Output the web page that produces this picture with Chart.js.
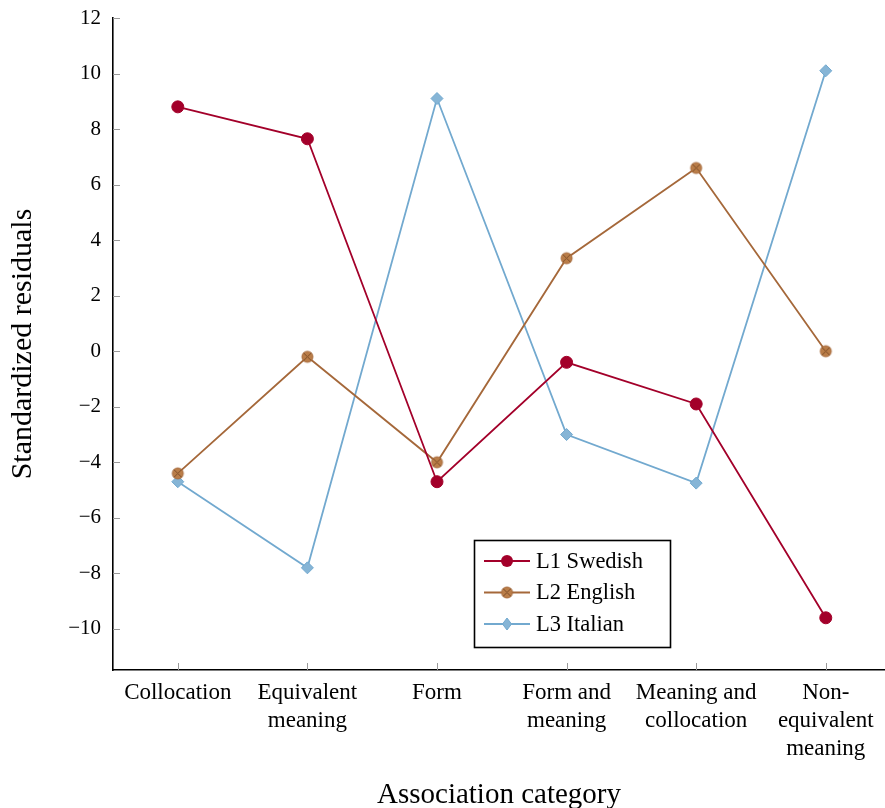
<!DOCTYPE html>
<html>
<head>
<meta charset="utf-8">
<script src="https://cdn.jsdelivr.net/npm/chart.js@4"></script>
<style>
  html, body { margin: 0; padding: 0; background: #fff; }
  #wrap { position: relative; width: 885px; height: 808px; }
</style>
</head>
<body>
<div id="wrap"><canvas id="c" width="885" height="808"></canvas></div>
<script>
// ---- data ----
const categories = [
  "Collocation",
  ["Equivalent", "meaning"],
  "Form",
  ["Form and", "meaning"],
  ["Meaning and", "collocation"],
  ["Non-", "equivalent", "meaning"]
];
const seriesNames = ["L1 Swedish", "L2 English", "L3 Italian"];
const swedish = [8.8, 7.65, -4.7, -0.4, -1.9, -9.6];
const english = [-4.4, -0.2, -4.0, 3.35, 6.6, 0.0];
const italian = [-4.7, -7.8, 9.1, -3.0, -4.75, 10.1];
const yTicks = [-10, -8, -6, -4, -2, 0, 2, 4, 6, 8, 10, 12];

const FONT = "'Liberation Serif', 'DejaVu Serif', serif";
const RED = "#A3002A";
const BROWN = "#A5683A";
const BROWN_FILL = "#BA7D48";
const BLUE = "#72A9CF";
const BLUE_FILL = "#86B5D6";

function makeOtimes(r) {
  const s = Math.ceil(r * 2 + 4);
  const cv = document.createElement('canvas');
  cv.width = s; cv.height = s;
  const g = cv.getContext('2d');
  const c = s / 2;
  g.beginPath(); g.arc(c, c, r, 0, Math.PI * 2);
  g.fillStyle = BROWN_FILL; g.fill();
  g.lineWidth = 1; g.strokeStyle = BROWN; g.stroke();
  const d = r * 0.7071;
  g.beginPath();
  g.moveTo(c - d, c - d); g.lineTo(c + d, c + d);
  g.moveTo(c + d, c - d); g.lineTo(c - d, c + d);
  g.strokeStyle = "#7E4E28"; g.lineWidth = 1; g.stroke();
  return cv;
}
const otimes = makeOtimes(5.5);

function toPoints(arr) { return arr.map((v, i) => ({ x: i, y: v })); }

const datasets = [
  { label: seriesNames[0], data: toPoints(swedish), borderColor: RED, backgroundColor: RED,
    pointStyle: 'circle', pointRadius: 6, pointBorderWidth: 1, pointBorderColor: RED, borderWidth: 1.8 },
  { label: seriesNames[1], data: toPoints(english), borderColor: BROWN, backgroundColor: BROWN_FILL,
    pointStyle: otimes, pointRadius: 6, borderWidth: 1.8 },
  { label: seriesNames[2], data: toPoints(italian), borderColor: BLUE, backgroundColor: BLUE_FILL,
    pointStyle: 'rectRot', pointRadius: 6, pointBorderWidth: 1, pointBorderColor: BLUE, borderWidth: 1.8 }
];

// inner tick marks
const innerTicks = {
  id: 'innerTicks',
  afterDatasetsDraw(chart) {
    const ctx = chart.ctx, xs = chart.scales.x, ys = chart.scales.y;
    const a = chart.chartArea;
    ctx.save();
    ctx.strokeStyle = "#9a9a9a"; ctx.lineWidth = 1;
    ctx.beginPath();
    yTicks.forEach(v => {
      const y = Math.round(ys.getPixelForValue(v)) + 0.5;
      ctx.moveTo(a.left, y); ctx.lineTo(a.left + 7, y);
    });
    categories.forEach((c, i) => {
      const x = Math.round(xs.getPixelForValue(i)) + 0.5;
      ctx.moveTo(x, a.bottom); ctx.lineTo(x, a.bottom - 7);
    });
    ctx.stroke();
    ctx.restore();
  }
};

// custom legend box
const boxLegend = {
  id: 'boxLegend',
  afterDraw(chart) {
    const ctx = chart.ctx;
    const bx = 474.5, by = 540.5, bw = 196, bh = 107;
    ctx.save();
    ctx.fillStyle = "#fff";
    ctx.fillRect(bx, by, bw, bh);
    ctx.strokeStyle = "#000"; ctx.lineWidth = 1.6;
    ctx.strokeRect(bx, by, bw, bh);
    const rows = [561, 592.5, 624];
    chart.data.datasets.forEach((ds, i) => {
      const y = rows[i];
      ctx.strokeStyle = ds.borderColor; ctx.lineWidth = 1.8;
      ctx.beginPath(); ctx.moveTo(484, y); ctx.lineTo(530, y); ctx.stroke();
      const mx = 507;
      if (i === 0) {
        ctx.beginPath(); ctx.arc(mx, y, 6, 0, Math.PI * 2);
        ctx.fillStyle = ds.backgroundColor; ctx.fill();
      } else if (i === 1) {
        ctx.drawImage(otimes, mx - otimes.width / 2, y - otimes.height / 2);
      } else {
        const r = 6;
        ctx.beginPath();
        ctx.moveTo(mx, y - r); ctx.lineTo(mx + r * 0.75, y); ctx.lineTo(mx, y + r); ctx.lineTo(mx - r * 0.75, y); ctx.closePath();
        ctx.fillStyle = ds.backgroundColor; ctx.fill();
        ctx.strokeStyle = ds.borderColor; ctx.lineWidth = 1; ctx.stroke();
      }
      ctx.fillStyle = "#000";
      ctx.font = "22.5px " + FONT;
      ctx.textBaseline = "middle";
      ctx.textAlign = "left";
      ctx.fillText(ds.label, 536, y + 1);
    });
    ctx.restore();
  }
};

new Chart(document.getElementById('c'), {
  type: 'line',
  data: { datasets },
  plugins: [innerTicks, boxLegend],
  options: {
    responsive: false,
    animation: false,
    layout: { autoPadding: false, padding: { top: 18, right: 0, bottom: 0, left: 0 } },
    plugins: { legend: { display: false }, tooltip: { enabled: false } },
    elements: { line: { tension: 0 } },
    scales: {
      x: {
        type: 'linear',
        min: -0.5,
        max: 5.457,
        afterFit(s) { s.height = 138; s.paddingLeft = 0; s.paddingRight = 0; },
        afterBuildTicks(s) { s.ticks = categories.map((c, i) => ({ value: i })); },
        grid: { display: false, drawTicks: false },
        border: { display: true, color: "#000", width: 1.6 },
        ticks: {
          autoSkip: false, maxRotation: 0, padding: 9,
          color: "#000",
          font: { family: FONT, size: 23, lineHeight: 1.22 },
          callback: (v) => categories[Math.round(v)]
        },
        title: {
          display: true, text: "Association category", color: "#000",
          font: { family: FONT, size: 29, lineHeight: 0.9 }, padding: { top: 8, bottom: 0 }
        }
      },
      y: {
        min: -11.48,
        max: 12,
        afterFit(s) { s.width = 113; s.paddingTop = 0; s.paddingBottom = 0; },
        afterBuildTicks(s) { s.ticks = yTicks.map(v => ({ value: v })); },
        grid: { display: false, drawTicks: false },
        border: { display: true, color: "#000", width: 1.6 },
        ticks: {
          padding: 12, color: "#000",
          font: { family: FONT, size: 21 },
          callback: (v) => String(v).replace('-', '\u2212')
        },
        title: {
          display: true, text: "Standardized residuals", color: "#000",
          font: { family: FONT, size: 30, lineHeight: 1 }, padding: { top: 8, bottom: 4 }
        }
      }
    }
  }
});
</script>
</body>
</html>
